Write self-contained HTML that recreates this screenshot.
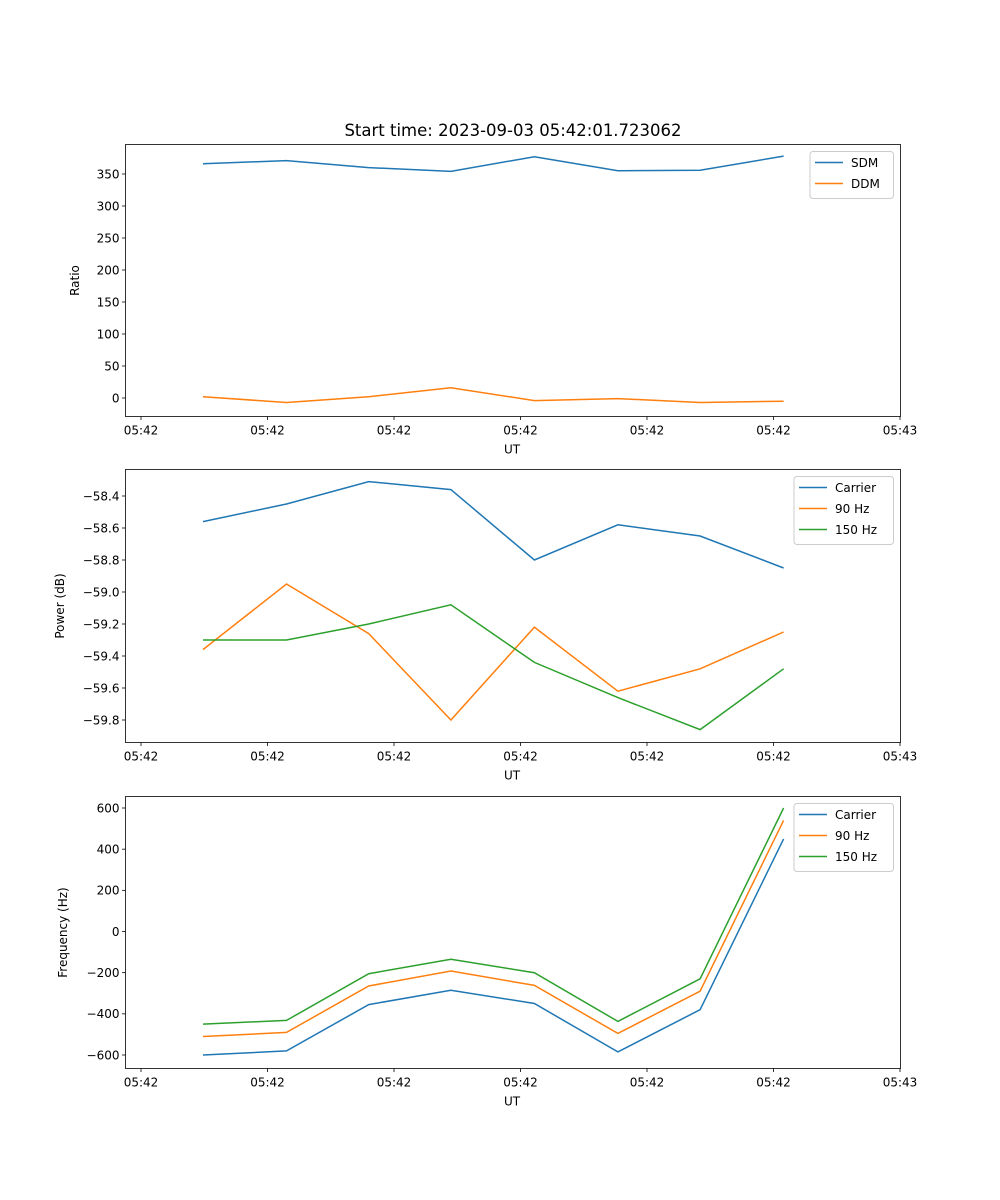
<!DOCTYPE html>
<html><head><meta charset="utf-8"><style>
body{margin:0;background:#fff;}
svg{display:block;font-family:"DejaVu Sans","Liberation Sans",sans-serif;}
</style></head><body>
<svg id="fig" width="1000" height="1200" xmlns="http://www.w3.org/2000/svg">
<rect width="1000" height="1200" fill="#fff"/>
<text x="513" y="136" font-size="16.5" text-anchor="middle">Start time: 2023-09-03 05:42:01.723062</text>
</svg>
<script>
const times=[4.9,11.5,18.0,24.5,31.1,37.7,44.2,50.8];
const xTicks=[0,10,20,30,40,50,60];
const xTickLabels=["05:42","05:42","05:42","05:42","05:42","05:42","05:43"];
const sdm=[366,371,360,354,377,355,356,378];
const ddm=[2,-7,2,16,-4,-1,-7,-5];
const ratioTicks=[0,50,100,150,200,250,300,350];
const powCarrier=[-58.56,-58.45,-58.31,-58.36,-58.80,-58.58,-58.65,-58.85];
const pow90=[-59.36,-58.95,-59.26,-59.80,-59.22,-59.62,-59.48,-59.25];
const pow150=[-59.30,-59.30,-59.20,-59.08,-59.44,-59.66,-59.86,-59.48];
const powTicks=[-59.8,-59.6,-59.4,-59.2,-59.0,-58.8,-58.6,-58.4];
const freqCarrier=[-600,-580,-355,-285,-350,-585,-380,450];
const freq90=[-510,-490,-265,-192,-262,-495,-290,540];
const freq150=[-450,-432,-205,-135,-200,-437,-230,600];
const freqTicks=[-600,-400,-200,0,200,400,600];

const NS="http://www.w3.org/2000/svg";
const svg=document.getElementById('fig');
function el(t,a,p){const e=document.createElementNS(NS,t);for(const k in a)e.setAttribute(k,a[k]);(p||svg).appendChild(e);return e;}
const X0=125.5,X1=900.5;
const xs=v=>141+v*12.65;
const C={blue:"#1f77b4",orange:"#ff7f0e",green:"#2ca02c"};

function panel(name,top,bot,ys,yTicks,fmt,ylabel,ylabX,series,legend){
  const g=el('g',{});
  
  
  series.forEach(s=>{
    const pts=s.vals.map((v,i)=>xs(times[i]).toFixed(1)+','+ys(v).toFixed(1)).join(' ');
    const pl=el('polyline',{points:pts,fill:'none',stroke:s.color,'stroke-width':1.5},g);
    
    
  });
  const fr=el('rect',{x:X0,y:top,width:X1-X0,height:bot-top,fill:'none',stroke:'#000','stroke-width':0.8},g);
  
  
  xTicks.forEach((t,i)=>{
    const x=xs(t);
    el('line',{x1:x,x2:x,y1:bot,y2:bot+3.5,stroke:'#000','stroke-width':0.8},g);
    const tx=el('text',{x:x,y:bot+18,'font-size':12,'text-anchor':'middle'},g);
    tx.textContent=xTickLabels[i];
    
    
  });
  const xl=el('text',{x:512,y:bot+37,'font-size':12,'text-anchor':'middle'},g);
  xl.textContent='UT';
  
  
  yTicks.forEach(t=>{
    const y=ys(t);
    el('line',{x1:X0-3.5,x2:X0,y1:y,y2:y,stroke:'#000','stroke-width':0.8},g);
    const tx=el('text',{x:X0-6,y:y+4.3,'font-size':12,'text-anchor':'end'},g);
    tx.textContent=fmt(t);
    
    
  });
  const cy=(top+bot)/2;
  const yl=el('text',{x:ylabX,y:cy,'font-size':12,'text-anchor':'middle',transform:`rotate(-90 ${ylabX} ${cy})`},g);
  yl.textContent=ylabel;
  
  
  const lg=el('g',{},g);
  
  
  el('rect',{x:legend.x,y:top+7,width:X1-7-legend.x,height:series.length*21+5,rx:3,fill:'#fff','fill-opacity':0.8,stroke:'#ccc','stroke-width':1},lg);
  series.forEach((s,i)=>{
    const y=top+18+i*21;
    el('line',{x1:legend.x+5,x2:legend.x+33,y1:y,y2:y,stroke:s.color,'stroke-width':1.5},lg);
    const t=el('text',{x:legend.x+41,y:y+4.5,'font-size':12},lg);
    t.textContent=s.label;
    
    
  });
}
const mk=(v0,p0,v1,p1)=>v=>p0+(v-v0)*(p1-p0)/(v1-v0);
panel('ratio',144.5,416.5,mk(0,398,350,174),ratioTicks,v=>String(v),'Ratio',79,
 [{id:'sdm',label:'SDM',vals:sdm,color:C.blue},{id:'ddm',label:'DDM',vals:ddm,color:C.orange}],{x:810});
panel('power',469.5,742.5,mk(-59.8,720,-58.4,496),powTicks,v=>'\u2212'+Math.abs(v).toFixed(1),'Power (dB)',64,
 [{id:'carrier',label:'Carrier',vals:powCarrier,color:C.blue},{id:'90hz',label:'90 Hz',vals:pow90,color:C.orange},{id:'150hz',label:'150 Hz',vals:pow150,color:C.green}],{x:794});
panel('frequency',796.5,1068.5,mk(-600,1055,600,808),freqTicks,v=>v<0?'\u2212'+Math.abs(v):String(v),'Frequency (Hz)',67,
 [{id:'carrier',label:'Carrier',vals:freqCarrier,color:C.blue},{id:'90hz',label:'90 Hz',vals:freq90,color:C.orange},{id:'150hz',label:'150 Hz',vals:freq150,color:C.green}],{x:794});
</script>
</body></html>
